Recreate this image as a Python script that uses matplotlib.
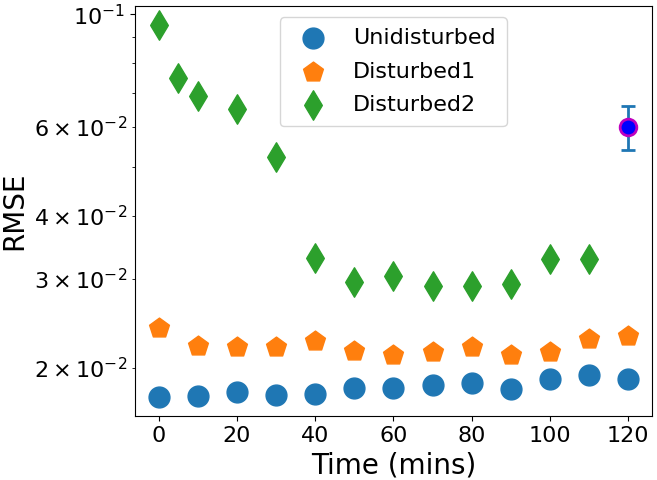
import matplotlib
matplotlib.use("Agg")
import matplotlib.pyplot as plt

times = [0, 10, 20, 30, 40, 50, 60, 70, 80, 90, 100, 110, 120]
times_d2 = [0, 5, 10, 20, 30, 40, 50, 60, 70, 80, 90, 100, 110]

undisturbed = [0.0175, 0.0176, 0.0179, 0.0177, 0.0178, 0.0183, 0.0183,
               0.0185, 0.0187, 0.0182, 0.0190, 0.0194, 0.0190]
disturbed1 = [0.0240, 0.0221, 0.0220, 0.0220, 0.0226, 0.0216, 0.0212,
              0.0215, 0.0220, 0.0212, 0.0215, 0.0228, 0.0231]
disturbed2 = [0.0954, 0.0747, 0.0690, 0.0650, 0.0523, 0.0330, 0.0296,
              0.0304, 0.0291, 0.0291, 0.0293, 0.0328, 0.0328]

extra_t = 120
extra_val = 0.060
extra_err = 0.006

fig = plt.figure(figsize=(6.57, 4.8), dpi=100)
ax = fig.add_axes([0.2055, 0.1333, 0.7865, 0.8542])

ax.scatter(times, undisturbed, s=225, marker="o", label="Unidisturbed")
ax.scatter(times, disturbed1, s=225, marker="p", label="Disturbed1")
ax.scatter(times_d2, disturbed2, s=225, marker="d", label="Disturbed2")
ax.errorbar(extra_t, extra_val, yerr=extra_err, fmt="o", markersize=12,
            markerfacecolor="blue", markeredgecolor="m", markeredgewidth=2,
            ecolor="C0", capsize=5, elinewidth=2, capthick=2)

ax.set_yscale("log")
ax.set_xlabel("Time (mins)", fontsize=20)
ax.set_ylabel("RMSE", fontsize=20, labelpad=4.5)
ax.tick_params(axis="both", which="both", labelsize=16)
ax.legend(loc="upper center", fontsize=16, labelspacing=0.6, borderpad=0.5)

fig.savefig("out.png", dpi=100)
